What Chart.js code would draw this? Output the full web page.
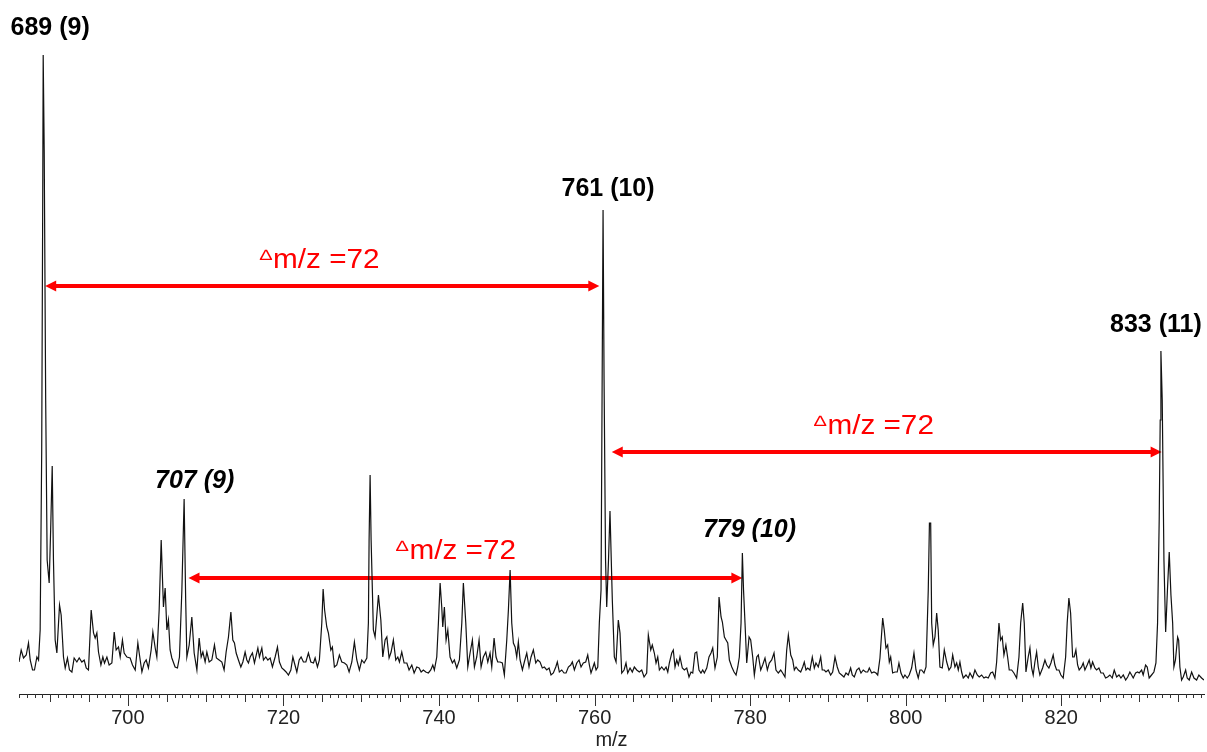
<!DOCTYPE html>
<html>
<head>
<meta charset="utf-8">
<script src="https://cdn.jsdelivr.net/npm/chart.js@4.4.1/dist/chart.umd.min.js"></script>
<style>
  html, body { margin: 0; padding: 0; background: #fff; }
  #wrap { width: 1207px; height: 752px; position: relative; }
</style>
</head>
<body>
<div id="wrap"><canvas id="spectrumChart"></canvas></div>
<script>
// spectrum: [m/z, intensity (a.u.)]
const spectrum = [
  [686.00,32],[686.28,44],[686.58,36],[686.93,39],[687.22,51],[687.44,34],[687.74,24],[687.99,24],[688.30,37],[688.51,34],
  [688.72,64],[688.92,244],[689.05,494],[689.11,639],[689.24,544],[689.43,294],[689.62,134],[689.88,111],[690.07,164],[690.27,228],
  [690.43,134],[690.65,54],[690.87,41],[691.21,89],[691.42,79],[691.72,37],[691.94,26],[692.23,36],[692.49,24],[692.80,22],
  [693.09,36],[693.44,32],[693.74,36],[694.08,32],[694.38,34],[694.64,26],[694.93,24],[695.28,84],[695.58,61],[695.79,56],
  [696.01,61],[696.22,42],[696.53,29],[696.78,37],[696.99,31],[697.30,37],[697.59,29],[697.94,31],[698.24,62],[698.49,44],
  [698.79,47],[699.01,37],[699.30,54],[699.52,41],[699.87,37],[700.29,36],[700.59,29],[700.94,24],[701.28,51],[701.49,39],
  [701.80,22],[702.09,31],[702.35,34],[702.64,26],[702.99,44],[703.21,62],[703.51,46],[703.72,37],[704.02,84],[704.28,154],
  [704.57,87],[704.79,106],[705.01,64],[705.21,74],[705.43,44],[705.65,36],[706.07,27],[706.37,26],[706.63,37],[706.94,104],
  [707.23,195],[707.43,94],[707.58,37],[707.88,49],[708.22,77],[708.52,41],[708.87,24],[709.16,56],[709.42,37],[709.64,42],
  [709.93,32],[710.15,42],[710.45,32],[710.79,34],[711.13,49],[711.38,36],[711.73,34],[712.08,32],[712.37,24],[712.63,42],
  [712.93,57],[713.24,82],[713.49,54],[713.70,51],[713.92,41],[714.21,34],[714.52,27],[714.78,32],[715.07,42],[715.29,34],
  [715.50,31],[715.72,37],[716.01,41],[716.27,31],[716.71,46],[716.91,37],[717.22,46],[717.43,34],[717.73,37],[717.99,34],
  [718.29,36],[718.58,27],[718.93,37],[719.23,47],[719.48,32],[719.79,26],[720.09,24],[720.34,22],[720.64,19],[720.95,24],
  [721.21,37],[721.41,31],[721.72,22],[722.02,34],[722.27,37],[722.57,32],[722.88,32],[723.21,41],[723.52,32],[723.86,31],
  [724.07,36],[724.37,27],[724.62,34],[724.93,71],[725.10,105],[725.29,84],[725.57,67],[725.78,61],[726.09,44],[726.29,47],
  [726.55,27],[726.86,29],[727.19,39],[727.50,32],[727.84,31],[728.15,29],[728.44,22],[728.79,32],[729.12,52],[729.43,34],
  [729.76,24],[730.07,34],[730.37,31],[730.72,36],[730.92,71],[731.01,154],[731.14,219],[731.27,154],[731.56,64],[731.78,57],
  [732.21,99],[732.52,74],[732.77,37],[733.07,54],[733.29,57],[733.58,36],[733.84,42],[734.13,54],[734.44,34],[734.70,37],
  [734.91,32],[735.21,42],[735.51,31],[735.86,31],[736.15,24],[736.50,29],[736.80,21],[737.14,27],[737.44,26],[737.70,22],
  [737.99,24],[738.30,22],[738.63,21],[738.94,24],[739.20,29],[739.40,24],[739.71,37],[739.92,71],[740.14,111],[740.35,87],
  [740.48,67],[740.69,87],[740.91,54],[741.13,64],[741.42,37],[741.72,31],[741.97,34],[742.28,26],[742.62,34],[742.93,71],
  [743.13,111],[743.44,71],[743.70,27],[743.99,41],[744.29,54],[744.55,27],[744.85,37],[745.15,54],[745.41,27],[745.70,37],
  [746.01,42],[746.27,32],[746.56,41],[746.78,27],[747.08,56],[747.33,37],[747.55,32],[747.85,32],[748.14,31],[748.40,19],
  [748.71,54],[748.92,84],[749.14,124],[749.35,71],[749.56,51],[749.78,47],[749.99,37],[750.20,52],[750.42,34],[750.72,24],
  [750.97,32],[751.28,41],[751.57,27],[751.83,37],[752.13,44],[752.44,31],[752.69,34],[752.99,32],[753.28,26],[753.54,27],
  [753.85,24],[754.15,26],[754.40,19],[754.70,21],[755.01,27],[755.21,32],[755.47,22],[755.78,24],[756.07,21],[756.33,21],
  [756.63,27],[756.93,29],[757.14,32],[757.40,24],[757.71,31],[758.00,34],[758.26,27],[758.55,31],[758.86,32],[759.12,39],
  [759.33,29],[759.54,21],[759.76,26],[759.97,31],[760.19,24],[760.41,27],[760.61,71],[760.83,104],[760.96,294],[761.09,484],
  [761.22,314],[761.41,134],[761.56,87],[761.79,134],[761.98,183],[762.28,94],[762.54,37],[762.76,32],[763.05,74],[763.27,61],
  [763.49,21],[763.79,24],[764.04,31],[764.26,21],[764.56,26],[764.85,22],[765.11,27],[765.42,24],[765.75,22],[766.06,24],
  [766.36,17],[766.70,21],[766.91,59],[767.22,44],[767.42,49],[767.68,41],[767.90,31],[768.12,37],[768.33,24],[768.63,27],
  [768.93,24],[769.19,27],[769.41,22],[769.61,31],[769.92,41],[770.12,44],[770.34,27],[770.56,34],[770.77,29],[770.98,37],
  [771.28,26],[771.54,24],[771.85,26],[772.14,17],[772.40,22],[772.62,21],[772.91,41],[773.13,42],[773.42,24],[773.68,21],
  [773.90,24],[774.11,21],[774.42,26],[774.71,37],[774.97,41],[775.19,46],[775.48,26],[775.78,37],[776.00,97],[776.26,77],
  [776.43,72],[776.69,57],[776.90,54],[777.12,51],[777.33,34],[777.64,27],[777.93,22],[778.19,19],[778.41,27],[778.61,37],
  [778.83,71],[779.00,141],[779.15,104],[779.34,71],[779.56,31],[779.86,57],[780.07,54],[780.33,37],[780.54,19],[780.85,37],
  [781.05,39],[781.36,24],[781.61,29],[781.91,36],[782.21,24],[782.46,31],[782.77,34],[783.07,41],[783.32,24],[783.62,21],
  [783.93,24],[784.18,21],[784.48,17],[784.70,44],[784.91,59],[785.22,39],[785.47,34],[785.68,24],[785.90,27],[786.19,24],
  [786.50,22],[786.76,27],[786.96,32],[787.18,24],[787.40,26],[787.69,24],[787.99,37],[788.25,26],[788.46,31],[788.76,27],
  [789.07,37],[789.27,24],[789.53,24],[789.75,22],[790.04,24],[790.35,19],[790.61,22],[790.91,37],[791.20,27],[791.46,21],
  [791.77,19],[792.06,17],[792.32,21],[792.62,19],[792.92,26],[793.13,19],[793.39,17],[793.70,24],[793.99,26],[794.25,21],
  [794.54,24],[794.85,22],[795.11,22],[795.32,26],[795.62,21],[795.92,22],[796.18,21],[796.40,19],[796.69,36],[797.04,76],
  [797.24,64],[797.46,46],[797.68,49],[797.89,32],[798.07,37],[798.32,21],[798.62,22],[798.91,22],[799.13,31],[799.39,21],
  [799.68,16],[799.90,19],[800.20,16],[800.45,19],[800.76,26],[801.06,41],[801.32,24],[801.61,16],[801.83,24],[802.05,24],
  [802.35,21],[802.61,27],[802.90,104],[803.05,171],[803.21,171],[803.34,71],[803.54,49],[803.76,57],[803.98,81],[804.18,64],
  [804.40,27],[804.70,26],[804.96,44],[805.27,32],[805.56,24],[805.82,27],[806.04,39],[806.33,27],[806.55,31],[806.76,24],
  [806.97,32],[807.19,22],[807.40,16],[807.75,19],[808.04,16],[808.26,21],[808.61,16],[808.90,24],[809.20,19],[809.45,17],
  [809.76,19],[810.06,16],[810.31,17],[810.61,16],[810.92,21],[811.18,22],[811.47,16],[811.69,32],[811.99,71],[812.20,54],
  [812.41,57],[812.63,39],[812.88,49],[813.10,37],[813.31,24],[813.62,24],[813.91,21],[814.26,16],[814.56,37],[814.78,71],
  [815.04,91],[815.24,71],[815.46,22],[815.75,37],[815.97,46],[816.19,26],[816.39,19],[816.61,32],[816.83,42],[817.04,27],
  [817.25,19],[817.60,26],[817.90,34],[818.12,29],[818.41,26],[818.67,31],[818.96,39],[819.18,29],[819.40,24],[819.70,24],
  [819.95,19],[820.25,16],[820.56,37],[820.76,71],[820.98,96],[821.20,81],[821.46,37],[821.66,37],[821.88,44],[822.10,29],
  [822.30,24],[822.61,27],[822.82,31],[823.04,24],[823.33,29],[823.59,34],[823.81,26],[824.03,32],[824.32,26],[824.54,24],
  [824.84,26],[825.10,21],[825.39,21],[825.70,16],[825.96,17],[826.25,19],[826.55,16],[826.81,24],[827.12,17],[827.42,19],
  [827.67,16],[827.97,19],[828.28,14],[828.54,17],[828.82,22],[829.04,19],[829.25,16],[829.56,21],[829.81,22],[830.02,21],
  [830.33,24],[830.53,19],[830.84,29],[831.05,27],[831.30,16],[831.61,19],[831.91,22],[832.17,31],[832.38,71],[832.59,174],
  [832.72,274],[832.81,343],[832.98,294],[833.20,134],[833.42,62],[833.65,104],[833.88,142],[834.10,99],[834.32,71],[834.48,27],
  [834.68,34],[834.96,57],[835.09,54],[835.25,27],[835.47,14],[835.68,17],[835.99,24],[836.19,16],[836.45,14],[836.76,22],
  [837.06,16],[837.40,14],[837.69,19],[838.04,16],[838.34,14]
];

const tickLabels = [700, 720, 740, 760, 780, 800, 820];
const peakLabels = ['689 (9)', '761 (10)', '833 (11)', '707 (9)', '779 (10)'];
const massShift = 72;

const FONT = '"Liberation Sans", Arial, Helvetica, sans-serif';
const RED = '#ff0000';

// where the annotations sit, in data units (m/z, intensity)
const labelLayout = [
  { x: 690.0, y: 668, italic: false },
  { x: 761.73, y: 507, italic: false },
  { x: 832.17, y: 371, italic: false },
  { x: 708.58, y: 215, italic: true },
  { x: 779.92, y: 166, italic: true }
];
const arrowLayout = [
  { from: 689.37, to: 760.61, y: 408, tx: 724.65, ty: 436 },
  { from: 762.21, to: 832.90, y: 242, tx: 795.92, ty: 270 },
  { from: 707.79, to: 779.00, y: 116, tx: 742.19, ty: 145 }
];

function drawArrow(ctx, x1, x2, y) {
  const head = 11, half = 5.5;
  ctx.strokeStyle = RED;
  ctx.fillStyle = RED;
  ctx.lineWidth = 4;
  ctx.beginPath();
  ctx.moveTo(x1 + head - 1, y);
  ctx.lineTo(x2 - head + 1, y);
  ctx.stroke();
  ctx.beginPath();
  ctx.moveTo(x1, y);
  ctx.lineTo(x1 + head, y - half);
  ctx.lineTo(x1 + head, y + half);
  ctx.closePath();
  ctx.fill();
  ctx.beginPath();
  ctx.moveTo(x2, y);
  ctx.lineTo(x2 - head, y - half);
  ctx.lineTo(x2 - head, y + half);
  ctx.closePath();
  ctx.fill();
}

function drawShiftText(ctx, cx, cy) {
  const mainText = 'm/z =' + massShift;
  const small = '15px ' + FONT, big = '27px ' + FONT;
  ctx.font = small;
  const wt = ctx.measureText('\u2206').width * 1.35;
  ctx.font = big;
  const wm = ctx.measureText(mainText).width * 1.1;
  const x0 = cx - (wt + 1 + wm) / 2;
  const base = cy + 9.5;
  ctx.fillStyle = RED;
  ctx.textAlign = 'left';
  ctx.textBaseline = 'alphabetic';
  ctx.save();
  ctx.translate(x0, base - 8);
  ctx.scale(1.35, 1);
  ctx.font = small;
  ctx.fillText('\u2206', 0, 0);
  ctx.restore();
  ctx.save();
  ctx.translate(x0 + wt + 1, base);
  ctx.scale(1.1, 1);
  ctx.font = big;
  ctx.fillText(mainText, 0, 0);
  ctx.restore();
}

const annotations = {
  id: 'annotations',
  beforeDatasetsDraw(chart) {
    const { ctx, scales: { x, y } } = chart;
    ctx.save();
    arrowLayout.forEach(a => {
      drawArrow(ctx, x.getPixelForValue(a.from), x.getPixelForValue(a.to), y.getPixelForValue(a.y));
    });
    ctx.restore();
  },
  afterDatasetsDraw(chart) {
    const { ctx, scales: { x, y } } = chart;
    ctx.save();
    arrowLayout.forEach(a => drawShiftText(ctx, x.getPixelForValue(a.tx), y.getPixelForValue(a.ty)));
    ctx.fillStyle = '#000';
    ctx.textAlign = 'center';
    ctx.textBaseline = 'alphabetic';
    peakLabels.forEach((t, i) => {
      const p = labelLayout[i];
      ctx.font = (p.italic ? 'italic ' : '') + 'bold 25px ' + FONT;
      ctx.fillText(t, x.getPixelForValue(p.x), y.getPixelForValue(p.y) + 9);
    });
    ctx.restore();
  },
  afterDraw(chart) {
    // minor / medium / major tick marks under the axis line
    const { ctx, chartArea, scales: { x } } = chart;
    ctx.save();
    ctx.strokeStyle = '#333';
    ctx.lineWidth = 1;
    ctx.beginPath();
    for (let m = Math.ceil(x.min); m <= Math.floor(x.max); m++) {
      const len = m % 20 === 0 ? 12 : (m % 5 === 0 ? 8 : 4);
      const px = Math.round(x.getPixelForValue(m)) + 0.5;
      ctx.moveTo(px, chartArea.bottom);
      ctx.lineTo(px, chartArea.bottom + len);
    }
    ctx.stroke();
    ctx.restore();
  }
};

const ctx = document.getElementById('spectrumChart').getContext('2d');
new Chart(ctx, {
  type: 'line',
  data: {
    datasets: [{
      data: spectrum.map(p => ({ x: p[0], y: p[1] })),
      borderColor: '#111',
      borderWidth: 1.2,
      pointRadius: 0,
      tension: 0,
      fill: false
    }]
  },
  options: {
    responsive: true,
    maintainAspectRatio: false,
    animation: false,
    events: [],
    parsing: false,
    layout: { padding: { top: 34, left: 19, right: 3, bottom: 0 } },
    plugins: {
      legend: { display: false },
      tooltip: { enabled: false }
    },
    scales: {
      x: {
        type: 'linear',
        min: 686,
        max: 838.35,
        afterBuildTicks: scale => { scale.ticks = tickLabels.map(v => ({ value: v })); },
        grid: { display: false, drawTicks: false },
        border: { display: true, color: '#222', width: 1 },
        ticks: {
          padding: 12,
          color: '#222',
          maxRotation: 0,
          font: { family: FONT, size: 20, lineHeight: 1.2 }
        },
        title: {
          display: true,
          text: 'm/z',
          color: '#222',
          padding: { top: -14, bottom: 0 },
          font: { family: FONT, size: 20, lineHeight: 1.2 }
        }
      },
      y: {
        display: false,
        min: 0,
        max: 660
      }
    }
  },
  plugins: [annotations]
});
</script>
</body>
</html>
